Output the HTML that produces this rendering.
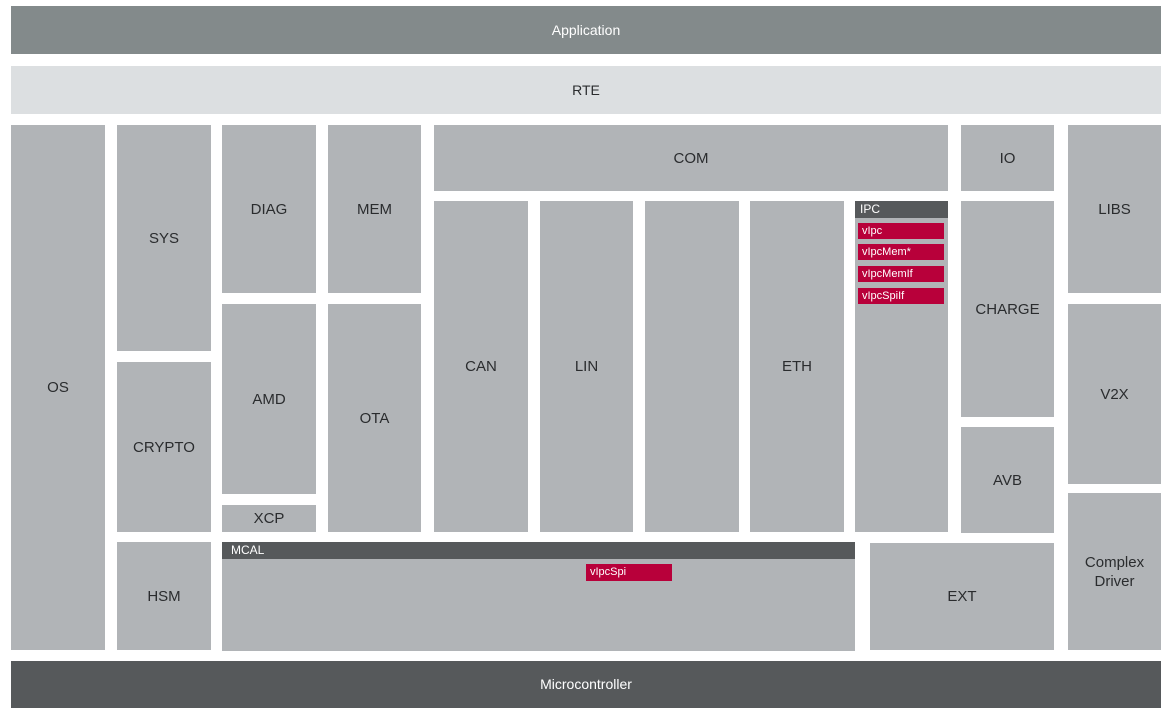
<!DOCTYPE html>
<html><head><meta charset="utf-8"><style>
body{margin:0;width:1167px;height:713px;background:#fff;position:relative;overflow:hidden;font-family:"Liberation Sans",sans-serif}
.b{position:absolute;background:#b1b4b7;color:#2a2c2e;font-size:15px;display:flex;align-items:center;justify-content:center;text-align:center;line-height:19px}
.h{position:absolute;background:#56595b;color:#fff;font-size:12px;line-height:17px;padding-left:5px;box-sizing:border-box}
.r{position:absolute;background:#b8003a;color:#fff;font-size:11px;line-height:16px;padding-left:4px;box-sizing:border-box}
</style></head><body>
<div class="b" style="left:11px;top:6px;width:1150px;height:48px;background:#838a8b;color:#fff;font-size:14px">Application</div>
<div class="b" style="left:11px;top:66px;width:1150px;height:48px;background:#dcdfe1;font-size:14px">RTE</div>
<div class="b" style="left:11px;top:125px;width:94px;height:525px">OS</div>
<div class="b" style="left:117px;top:125px;width:94px;height:226px">SYS</div>
<div class="b" style="left:117px;top:362px;width:94px;height:170px">CRYPTO</div>
<div class="b" style="left:117px;top:542px;width:94px;height:108px">HSM</div>
<div class="b" style="left:222px;top:125px;width:94px;height:168px">DIAG</div>
<div class="b" style="left:222px;top:304px;width:94px;height:190px">AMD</div>
<div class="b" style="left:222px;top:505px;width:94px;height:27px">XCP</div>
<div class="b" style="left:328px;top:125px;width:93px;height:168px">MEM</div>
<div class="b" style="left:328px;top:304px;width:93px;height:228px">OTA</div>
<div class="b" style="left:434px;top:125px;width:514px;height:66px">COM</div>
<div class="b" style="left:434px;top:201px;width:94px;height:331px">CAN</div>
<div class="b" style="left:540px;top:201px;width:93px;height:331px">LIN</div>
<div class="b" style="left:645px;top:201px;width:94px;height:331px"></div>
<div class="b" style="left:750px;top:201px;width:94px;height:331px">ETH</div>
<div class="b" style="left:855px;top:201px;width:93px;height:331px"></div>
<div class="h" style="left:855px;top:201px;width:93px;height:17px">IPC</div>
<div class="r" style="left:858px;top:223px;width:86px;height:16px">vIpc</div>
<div class="r" style="left:858px;top:244px;width:86px;height:16px">vIpcMem*</div>
<div class="r" style="left:858px;top:266px;width:86px;height:16px">vIpcMemIf</div>
<div class="r" style="left:858px;top:288px;width:86px;height:16px">vIpcSpiIf</div>
<div class="b" style="left:961px;top:125px;width:93px;height:66px">IO</div>
<div class="b" style="left:961px;top:201px;width:93px;height:216px">CHARGE</div>
<div class="b" style="left:961px;top:427px;width:93px;height:106px">AVB</div>
<div class="b" style="left:1068px;top:125px;width:93px;height:168px">LIBS</div>
<div class="b" style="left:1068px;top:304px;width:93px;height:180px">V2X</div>
<div class="b" style="left:1068px;top:493px;width:93px;height:157px">Complex<br>Driver</div>
<div class="b" style="left:222px;top:542px;width:633px;height:109px"></div>
<div class="h" style="left:222px;top:542px;width:633px;height:17px;padding-left:9px">MCAL</div>
<div class="r" style="left:586px;top:564px;width:86px;height:17px">vIpcSpi</div>
<div class="b" style="left:870px;top:543px;width:184px;height:107px">EXT</div>
<div class="b" style="left:11px;top:661px;width:1150px;height:47px;background:#56595b;color:#fff;font-size:14px">Microcontroller</div>
</body></html>
